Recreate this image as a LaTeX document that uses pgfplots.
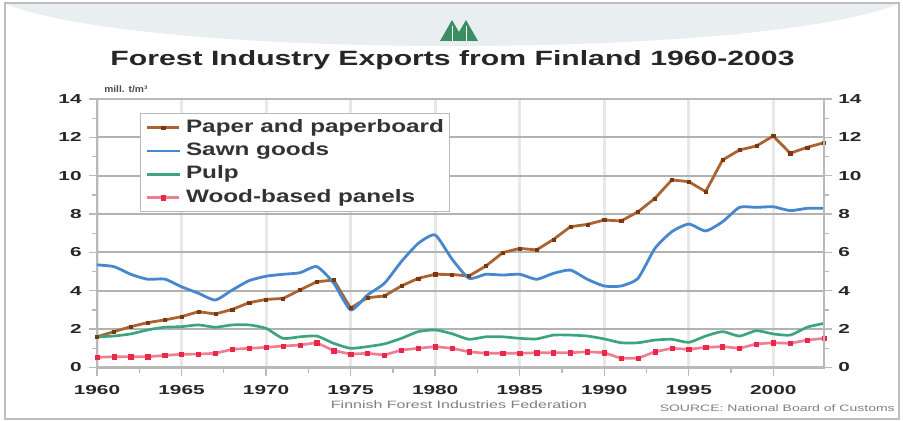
\documentclass[border=0pt]{standalone}
\usepackage{fontspec}
\setmainfont{Liberation Sans}
\usepackage{pgfplots}
\usepackage{pgfplotstable}
\pgfplotsset{compat=1.18}
\newfontfamily\titlef[FakeStretch=1.46]{Liberation Sans Bold}
\newfontfamily\legf[FakeStretch=1.35]{Liberation Sans Bold}
\newfontfamily\tickf[FakeStretch=1.6]{Liberation Sans Bold}
\newfontfamily\footf[FakeStretch=1.5]{Liberation Sans}
\newfontfamily\unitf[FakeStretch=1.1]{Liberation Sans Bold}

\definecolor{paperc}{RGB}{170,100,50}
\definecolor{paperm}{RGB}{125,55,10}
\definecolor{sawnc}{RGB}{70,135,205}
\definecolor{pulpc}{RGB}{60,165,125}
\definecolor{panelc}{RGB}{240,125,145}
\definecolor{panelm}{RGB}{232,40,70}
\definecolor{axgray}{RGB}{185,185,185}
\definecolor{hgrid}{RGB}{178,178,178}
\definecolor{vgrid}{RGB}{232,232,232}
\definecolor{bandc}{RGB}{233,238,240}
\definecolor{logoc}{RGB}{60,140,100}
\definecolor{framec}{RGB}{190,190,190}

\pgfplotstableread{
year paper sawn pulp panels
1960 1.60 5.35 1.60 0.53
1961 1.87 5.26 1.64 0.56
1962 2.13 4.86 1.75 0.56
1963 2.34 4.60 1.96 0.56
1964 2.48 4.61 2.10 0.63
1965 2.65 4.21 2.13 0.69
1966 2.91 3.87 2.22 0.70
1967 2.79 3.52 2.10 0.74
1968 3.03 4.04 2.22 0.95
1969 3.38 4.53 2.22 1.00
1970 3.55 4.76 2.04 1.05
1971 3.60 4.86 1.52 1.12
1972 4.04 4.94 1.60 1.17
1973 4.47 5.26 1.64 1.29
1974 4.56 4.40 1.26 0.88
1975 3.10 3.00 1.00 0.70
1976 3.64 3.78 1.09 0.74
1977 3.73 4.39 1.23 0.65
1978 4.25 5.52 1.52 0.91
1979 4.65 6.47 1.87 1.00
1980 4.86 6.91 1.96 1.09
1981 4.85 5.65 1.76 1.00
1982 4.77 4.65 1.47 0.82
1983 5.29 4.86 1.60 0.74
1984 5.99 4.82 1.60 0.74
1985 6.21 4.86 1.52 0.74
1986 6.13 4.60 1.49 0.77
1987 6.68 4.91 1.69 0.77
1988 7.34 5.08 1.69 0.77
1989 7.46 4.60 1.64 0.82
1990 7.69 4.25 1.49 0.77
1991 7.64 4.25 1.29 0.48
1992 8.12 4.65 1.29 0.48
1993 8.82 6.21 1.43 0.82
1994 9.78 7.08 1.47 1.00
1995 9.69 7.48 1.31 0.95
1996 9.17 7.12 1.64 1.05
1997 10.82 7.60 1.87 1.09
1998 11.34 8.35 1.64 1.00
1999 11.55 8.35 1.92 1.23
2000 12.07 8.38 1.75 1.29
2001 11.17 8.18 1.69 1.26
2002 11.48 8.30 2.10 1.43
2003 11.72 8.30 2.30 1.52
}\datatable

\begin{document}
\begin{tikzpicture}
\path[use as bounding box, fill=white] (0pt,0pt) rectangle (677.25pt,315.75pt);
\begin{scope}[x=0.75pt, y=-0.75pt, yshift=315.75pt]
  \fill[bandc] (6,4) -- (898,4) .. controls (760,60) and (145,60) .. (6,4) -- cycle;
  \draw[framec, line width=1.5pt] (5,3) rectangle (899,419);
  % logo
  \fill[logoc] (440,41) -- (452,20) -- (459,32) -- (466,20) -- (478,41) -- cycle;
  \draw[white, line width=0.6pt] (452,26) -- (452,41) (466,26) -- (466,41);
  \node[font=\titlef\fontsize{15.5pt}{18pt}\selectfont, text=black!85] at (452.5,60) {Forest Industry Exports from Finland 1960-2003};
  \node[font=\unitf\fontsize{7pt}{8pt}\selectfont, text=black!70, anchor=west, inner sep=0pt] at (104,89) {mill. t/m³};
  \node[font=\footf\fontsize{8pt}{9pt}\selectfont, text=black!50] at (459,405) {Finnish Forest Industries Federation};
  \node[font=\footf\fontsize{7pt}{8pt}\selectfont, text=black!50, anchor=east, inner sep=0pt] at (895,408) {SOURCE: National Board of Customs};
\end{scope}

\begin{axis}[
  at={(72.75pt,40.125pt)}, anchor=south west,
  scale only axis, width=545.25pt, height=201.375pt,
  xmin=1960, xmax=2003, ymin=0, ymax=14,
  xtick={1960,1965,...,2000}, ytick={0,2,...,14},
  minor x tick num=1, minor y tick num=1,
  xtick pos=bottom, ytick pos=left,
  tick align=outside,
  major tick length=6pt, minor tick length=4pt,
  tick style={draw=axgray, line width=1pt},
  axis line style={draw=axgray, line width=2pt},
  xmajorgrids, ymajorgrids,
  x grid style={draw=vgrid, line width=2.25pt},
  y grid style={draw=hgrid, line width=1.5pt},
  /pgf/number format/assume math mode=true,
  /pgf/number format/1000 sep={},
  yticklabel style={font=\tickf\fontsize{9.75pt}{11pt}\selectfont, text=black!85, xshift=-2pt},
  xticklabel style={font=\tickf\fontsize{9.75pt}{11pt}\selectfont, text=black!85, yshift=-4pt},
  legend style={at={(0.059,0.948)}, anchor=north west, draw=axgray, line width=1pt, fill=white,
    inner xsep=4pt, inner ysep=4pt, row sep=4.5pt,
    nodes={inner sep=0pt, text height=10pt, text depth=3pt},
    font=\legf\fontsize{13.5pt}{16pt}\selectfont, text=black!80},
  legend cell align=left,
  /tikz/every odd column/.append style={column sep=4pt},
  legend image code/.code={\draw[mark repeat=2,mark phase=2,#1] plot coordinates {(0pt,0pt) (12pt,0pt) (24pt,0pt)};},
]
\addplot[paperc, line width=2.1pt, mark=square*, mark size=1.2pt, mark options={draw=paperm, fill=paperm, line width=0.3pt}] table[x=year, y=paper] {\datatable};
\addlegendentry{Paper and paperboard}
\addplot[sawnc, line width=2.1pt, smooth, tension=0.35] table[x=year, y=sawn] {\datatable};
\addlegendentry{Sawn goods}
\addplot[pulpc, line width=2pt, smooth, tension=0.35] table[x=year, y=pulp] {\datatable};
\addlegendentry{Pulp}
\addplot[panelc, line width=2pt, mark=square*, mark size=1.6pt, mark options={draw=panelm, fill=panelm, line width=0.3pt}] table[x=year, y=panels] {\datatable};
\addlegendentry{Wood-based panels}
\end{axis}

\begin{axis}[
  at={(72.75pt,40.125pt)}, anchor=south west,
  scale only axis, width=545.25pt, height=201.375pt,
  xmin=1960, xmax=2003, ymin=0, ymax=14,
  axis x line=none, axis y line*=right,
  ytick={0,2,...,14}, minor y tick num=1,
  tick align=outside,
  major tick length=6pt, minor tick length=4pt,
  tick style={draw=axgray, line width=1pt},
  axis line style={draw=axgray, line width=2pt},
  /pgf/number format/assume math mode=true,
  yticklabel style={font=\tickf\fontsize{9.75pt}{11pt}\selectfont, text=black!85, xshift=1.25pt},
]
\addplot[draw=none] coordinates {(1960,0) (2003,14)};
\end{axis}
\end{tikzpicture}
\end{document}
